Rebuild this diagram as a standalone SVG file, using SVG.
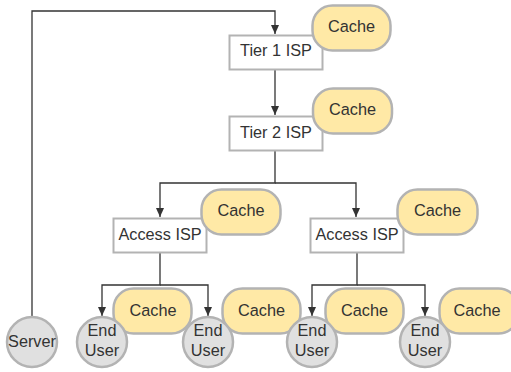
<svg xmlns="http://www.w3.org/2000/svg" width="511" height="372" viewBox="0 0 511 372">
<defs>
<marker id="arr" markerWidth="10" markerHeight="10" refX="9" refY="5" orient="auto" markerUnits="userSpaceOnUse">
<path d="M0,1 L9,5 L0,9 Z" fill="#333"/>
</marker>
<style>
.box{fill:#fff;stroke:#b3b3b3;stroke-width:2}
.cache{fill:#ffe9a6;stroke:#b3b3b3;stroke-width:2.5}
.circ{fill:#e0e0e0;stroke:#b3b3b3;stroke-width:2.5}
.c{fill:none;stroke:#333;stroke-width:1.3}
text{font-family:"Liberation Sans",Arial,sans-serif;font-size:16.3px;fill:#333;text-anchor:middle}
</style>
</defs>
<g id="connectors">
<path class="c" d="M32,317 V11 H275 V34" marker-end="url(#arr)"/>
<path class="c" d="M275,70 V115" marker-end="url(#arr)"/>
<path class="c" d="M275,151 V183 H160 V217" marker-end="url(#arr)"/>
<path class="c" d="M275,183 H356 V217" marker-end="url(#arr)"/>
<path class="c" d="M160,253 V285 H102 V316" marker-end="url(#arr)"/>
<path class="c" d="M160,285 H208 V316" marker-end="url(#arr)"/>
<path class="c" d="M357,253 V285 H312 V316" marker-end="url(#arr)"/>
<path class="c" d="M357,285 H425 V316" marker-end="url(#arr)"/>
</g>
<g id="tier1"><rect class="box" x="229.5" y="35.5" width="93" height="34"/><text x="276" y="55.5">Tier 1 ISP</text></g>
<g id="cache-t1"><rect class="cache" x="312.5" y="5.5" width="78" height="45" rx="20"/><text x="351.5" y="32">Cache</text></g>
<g id="tier2"><rect class="box" x="229.5" y="116.5" width="93" height="34"/><text x="276" y="137.5">Tier 2 ISP</text></g>
<g id="cache-t2"><rect class="cache" x="313" y="88.5" width="79" height="45" rx="20"/><text x="352.5" y="114.5">Cache</text></g>
<g id="access1"><rect class="box" x="113.5" y="218.5" width="93" height="34"/><text x="160" y="239.5">Access ISP</text></g>
<g id="cache-a1"><rect class="cache" x="201.5" y="189.5" width="79" height="45" rx="20"/><text x="241" y="216">Cache</text></g>
<g id="access2"><rect class="box" x="310.5" y="218.5" width="93" height="34"/><text x="357" y="239.5">Access ISP</text></g>
<g id="cache-a2"><rect class="cache" x="397.5" y="189.5" width="80" height="45" rx="20"/><text x="437.5" y="216">Cache</text></g>
<g id="cache-u1"><rect class="cache" x="113.5" y="288.5" width="78" height="45" rx="20"/><text x="153" y="316">Cache</text></g>
<g id="cache-u2"><rect class="cache" x="222.5" y="288.5" width="78" height="45" rx="20"/><text x="261.5" y="316">Cache</text></g>
<g id="cache-u3"><rect class="cache" x="325.5" y="288.5" width="78" height="45" rx="20"/><text x="364.5" y="316">Cache</text></g>
<g id="cache-u4"><rect class="cache" x="439.5" y="288.5" width="79" height="45" rx="20"/><text x="477" y="316">Cache</text></g>
<g id="server"><circle class="circ" cx="32" cy="342" r="25"/><text x="32" y="347">Server</text></g>
<g id="user1"><circle class="circ" cx="102" cy="342" r="25"/><text x="102" y="336">End</text><text x="102" y="356">User</text></g>
<g id="user2"><circle class="circ" cx="208" cy="342" r="25"/><text x="208" y="336">End</text><text x="208" y="356">User</text></g>
<g id="user3"><circle class="circ" cx="312" cy="342" r="25"/><text x="312" y="336">End</text><text x="312" y="356">User</text></g>
<g id="user4"><circle class="circ" cx="425" cy="342" r="25"/><text x="425" y="336">End</text><text x="425" y="356">User</text></g>
</svg>
